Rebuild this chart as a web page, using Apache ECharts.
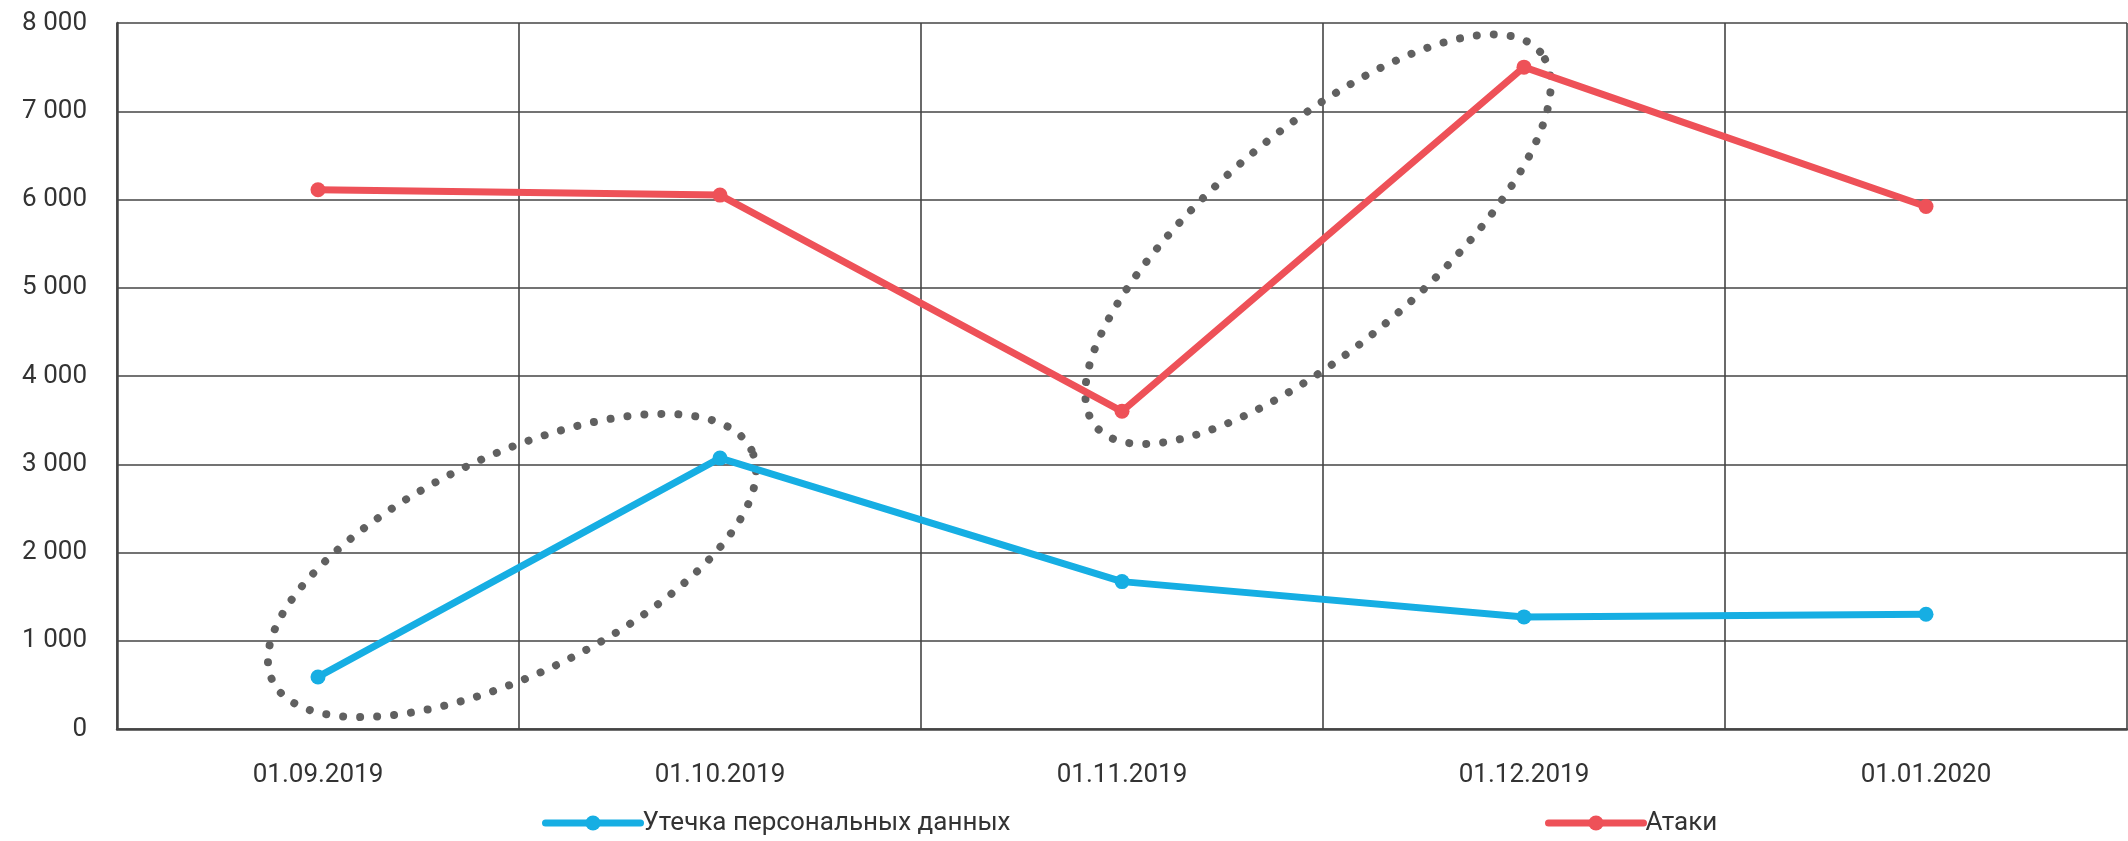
<!DOCTYPE html>
<html>
<head>
<meta charset="utf-8">
<script src="https://cdn.jsdelivr.net/npm/echarts@6/dist/echarts.min.js"></script>
<style>
html,body{margin:0;padding:0;background:#fff;}
#chart{width:2128px;height:841px;}
</style>
</head>
<body>
<div id="chart"></div>
<script>
// ---- data ----
const categories = ['01.09.2019', '01.10.2019', '01.11.2019', '01.12.2019', '01.01.2020'];
const leakName = 'Утечка персональных данных';
const attackName = 'Атаки';
const leakValues = [590, 3070, 1670, 1270, 1300];
const attackValues = [6110, 6050, 3600, 7500, 5920];
const yTicks = [0, 1000, 2000, 3000, 4000, 5000, 6000, 7000, 8000];

// ---- annotation ellipses (dotted), anchored on two data points of a series ----
const ellipseSeries = [leakValues, attackValues];
const ellipses = [
  { s: 0, from: 0, to: 1, extend: 37, minor: 109, tilt: -2.8, shift: [-7, -2] },
  { s: 1, from: 2, to: 3, extend: 26, minor: 108, tilt: -0.4, shift: [-5, 0] }
];

const chart = echarts.init(document.getElementById('chart'));
const font = 'Roboto';

function fmt(v) {
  return String(v).replace(/\B(?=(\d{3})+(?!\d))/g, ' ');
}

function renderEllipse(params, api) {
  const e = ellipses[params.dataIndex];
  const vals = ellipseSeries[e.s];
  const p1 = api.coord([e.from, vals[e.from]]);
  const p2 = api.coord([e.to, vals[e.to]]);
  const dx = p2[0] - p1[0], dy = p2[1] - p1[1];
  const half = Math.sqrt(dx * dx + dy * dy) / 2;
  const tilt = e.tilt * Math.PI / 180;
  const phi = Math.atan2(-dy, dx) + tilt; // visual angle (counter-clockwise, y up)
  const cx = (p1[0] + p2[0]) / 2 + e.shift[0];
  const cy = (p1[1] + p2[1]) / 2 + e.shift[1];
  const a = half + e.extend, b = e.minor;
  const pts = [];
  const N = 180;
  for (let i = 0; i < N; i++) {
    const t = i / N * Math.PI * 2;
    const ex = a * Math.cos(t), ey = b * Math.sin(t);
    pts.push([cx + ex * Math.cos(phi) - ey * Math.sin(phi),
              cy - (ex * Math.sin(phi) + ey * Math.cos(phi))]);
  }
  return {
    type: 'polygon',
    shape: { points: pts },
    style: { fill: 'none', stroke: '#606060', lineWidth: 8, lineDash: [0.01, 17], lineCap: 'round' },
    silent: true
  };
}

const legendBase = {
  top: 805, itemWidth: 95, itemHeight: 19, itemGap: 0,
  textStyle: { fontFamily: font, fontSize: 26, color: '#333', padding: [0, 0, 0, -3] },
  lineStyle: { width: 7, cap: 'round' },
  selectedMode: false
};

chart.setOption({
  animation: false,
  backgroundColor: '#fff',
  textStyle: { fontFamily: font },
  grid: { left: 117, right: 1, top: 23, bottom: 112, containLabel: false },
  legend: [
    Object.assign({}, legendBase, { data: [leakName], left: 537 }),
    Object.assign({}, legendBase, { data: [attackName], left: 1540 })
  ],
  xAxis: {
    type: 'category',
    data: categories,
    boundaryGap: true,
    axisLine: { lineStyle: { color: '#444', width: 2.5 } },
    axisTick: { show: false },
    axisLabel: { fontFamily: font, fontSize: 26, color: '#333', margin: 33 },
    splitLine: { show: true, interval: 0, lineStyle: { color: '#444', width: 1.6 } }
  },
  yAxis: {
    type: 'value',
    min: yTicks[0],
    max: yTicks[yTicks.length - 1],
    interval: yTicks[1] - yTicks[0],
    axisLine: { show: true, lineStyle: { color: '#444', width: 2.5 } },
    axisTick: { show: false },
    axisLabel: { fontFamily: font, fontSize: 26, color: '#333', margin: 30, formatter: fmt },
    splitLine: { show: true, lineStyle: { color: '#444', width: 1.6 } }
  },
  series: [
    {
      name: leakName, type: 'line', data: leakValues,
      symbol: 'circle', symbolSize: 15,
      itemStyle: { color: '#16AEE3' },
      lineStyle: { color: '#16AEE3', width: 7 },
      z: 4
    },
    {
      name: attackName, type: 'line', data: attackValues,
      symbol: 'circle', symbolSize: 15,
      itemStyle: { color: '#EE5158' },
      lineStyle: { color: '#EE5158', width: 7 },
      z: 4
    },
    {
      type: 'custom', name: 'ellipses',
      data: ellipses.map((e, i) => [e.from, i]),
      renderItem: renderEllipse,
      clip: false, silent: true, z: 3,
      tooltip: { show: false }
    }
  ]
});
</script>
</body>
</html>
